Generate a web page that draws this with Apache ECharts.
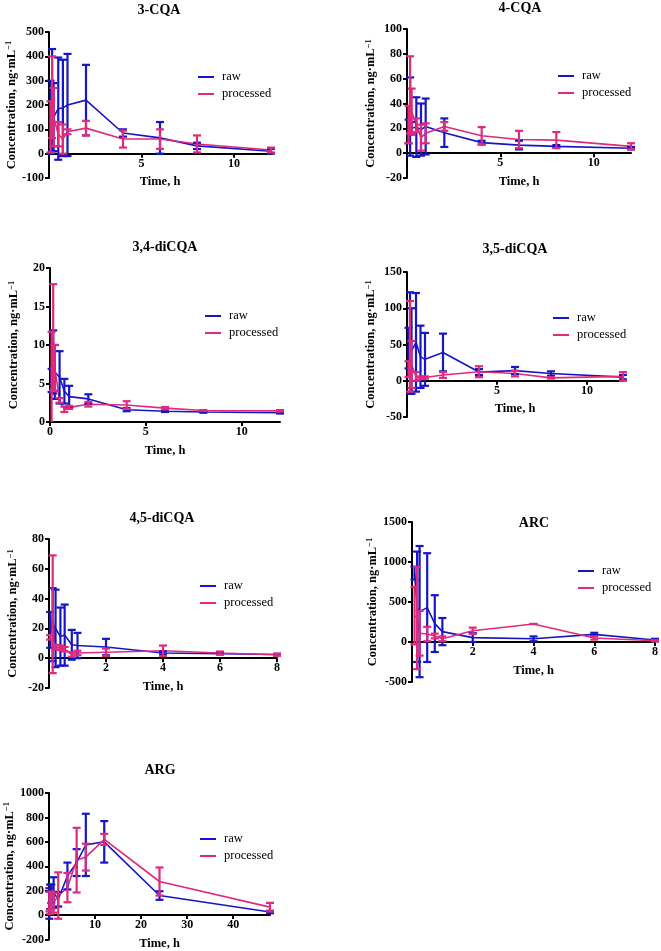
<!DOCTYPE html>
<html><head><meta charset="utf-8">
<script src="https://cdn.jsdelivr.net/npm/echarts/dist/echarts.min.js"></script>
<style>html,body{margin:0;padding:0;background:#fff}#c{width:661px;height:951px}</style>
</head><body><div id="c"></div>
<script>
// ---------- DATA ----------
const tCQA = [0.083, 0.167, 0.25, 0.5, 0.75, 1, 2, 4, 6, 8, 12];
const t45 = [0.04, 0.13, 0.23, 0.4, 0.55, 0.8, 1, 2, 4, 6, 8];
const tARC = [0.083, 0.167, 0.25, 0.5, 0.75, 1, 2, 4, 6, 8];
const tARG = [0.083, 0.25, 0.5, 1, 2, 4, 6, 8, 12, 24, 48];

const cqa3RawMean = [150, 220, 150, 185, 188, 200, 220, 85, 65, 32, 10];
const cqa3RawSD   = [150, 210, 140, 210, 198, 210, 145, 15, 65, 13, 10];
const cqa3ProcMean = [110, 232, 150, 80, 60, 90, 105, 60, 60, 40, 15];
const cqa3ProcSD   = [105, 168, 120, 50, 60, 10, 30, 35, 40, 35, 10];

const cqa4RawMean = [17.5, 29.5, 20, 21, 19, 21.5, 16.5, 8.5, 6.5, 5.5, 4];
const cqa4RawSD   = [9.5, 31.5, 5, 24, 21, 22.5, 11.5, 1.5, 3.5, 1, 1];
const cqa4ProcMean = [23, 47, 33.5, 22.5, 12.5, 16, 21.5, 14, 11, 10.5, 5.5];
const cqa4ProcSD   = [15, 31, 18.5, 5.5, 10.5, 8, 3.5, 7, 7, 6.5, 2.5];

const di34RawMean = [5.4, 7.8, 6.5, 5.8, 4.0, 3.3, 3.0, 1.6, 1.4, 1.3, 1.2];
const di34RawSD   = [1.5, 4.1, 3.5, 3.4, 1.6, 1.4, 0.6, 0.2, 0.1, 0.1, 0.1];
const di34ProcMean = [5.0, 11.0, 7.0, 2.8, 1.65, 1.9, 2.3, 2.2, 1.8, 1.5, 1.45];
const di34ProcSD   = [6.7, 6.9, 3.0, 0.3, 0.35, 0.2, 0.3, 0.5, 0.15, 0.05, 0.1];

const di35RawMean = [45, 52, 41, 53, 33, 29.5, 39, 12, 14, 10, 5];
const di35RawSD   = [28, 70, 59, 68, 43, 36.5, 26, 4, 5, 3, 3];
const di35ProcMean = [16, 47.5, 22.5, 6, 4, 4.5, 8, 12.5, 10, 4, 6];
const di35ProcSD   = [11, 62.5, 32.5, 6, 2, 1.5, 4, 7.5, 4, 1, 6];

const di45RawMean = [19, 22.5, 20, 14.5, 15.5, 9, 8.5, 7.5, 3.5, 3, 2.5];
const di45RawSD   = [12, 24.5, 26, 19.5, 20.5, 10, 8.5, 5.5, 1, 0.5, 0.5];
const di45ProcMean = [14, 29.5, 7.5, 7, 6, 2.5, 3.5, 4, 5, 3.5, 2.3];
const di45ProcSD   = [1.5, 39.5, 1.5, 1.5, 1.5, 1.5, 1.5, 2.5, 3.5, 1, 0.7];

const arcRawMean = [860, 440, 380, 430, 230, 130, 55, 40, 95, 25];
const arcRawSD   = [80, 690, 820, 680, 355, 170, 55, 30, 20, 15];
const arcProcMean = [330, 300, 110, 100, 75, 40, 140, 225, 50, 15];
const arcProcSD   = [360, 640, 280, 90, 30, 30, 40, 0, 20, 8];

const argRawMean = [95, 150, 175, 185, 130, 320, 430, 575, 600, 160, 25];
const argRawSD   = [125, 100, 75, 125, 60, 110, 110, 255, 170, 35, 10];
const argProcMean = [110, 100, 120, 100, 160, 225, 450, 475, 620, 275, 65];
const argProcSD   = [80, 90, 70, 80, 190, 120, 265, 110, 45, 115, 35];

const titles = ['3-CQA', '4-CQA', '3,4-diCQA', '3,5-diCQA', '4,5-diCQA', 'ARC', 'ARG'];
const seriesNames = ['raw', 'processed'];
const xTickLabels = [[5, 10], [5, 10], [0, 5, 10], [5, 10], [2, 4, 6, 8], [2, 4, 6, 8], [10, 20, 30, 40]];
const yRanges = [[-100, 500, 100], [-20, 100, 20], [0, 20, 5], [-50, 150, 50], [-20, 80, 20], [-500, 1500, 500], [-200, 1000, 200]];
const xMax = [12, 12, 12, 12, 8, 8, 48];

// ---------- LAYOUT ----------
const panels = [
  {t: tCQA, rm: cqa3RawMean, rs: cqa3RawSD, pm: cqa3ProcMean, ps: cqa3ProcSD,
   grid: {left: 49, top: 32, width: 222, height: 146}, title: [159, 10], legend: [193, 65]},
  {t: tCQA, rm: cqa4RawMean, rs: cqa4RawSD, pm: cqa4ProcMean, ps: cqa4ProcSD,
   grid: {left: 407, top: 29, width: 224, height: 149}, title: [520, 8], legend: [553, 64]},
  {t: tCQA, rm: di34RawMean, rs: di34RawSD, pm: di34ProcMean, ps: di34ProcSD,
   grid: {left: 50, top: 268, width: 230, height: 154}, title: [165, 247], legend: [200, 304]},
  {t: tCQA, rm: di35RawMean, rs: di35RawSD, pm: di35ProcMean, ps: di35ProcSD,
   grid: {left: 407, top: 272, width: 216, height: 145}, title: [515, 249], legend: [548, 306]},
  {t: t45, rm: di45RawMean, rs: di45RawSD, pm: di45ProcMean, ps: di45ProcSD,
   grid: {left: 49, top: 539, width: 228, height: 149}, title: [162, 518], legend: [195, 574]},
  {t: tARC, rm: arcRawMean, rs: arcRawSD, pm: arcProcMean, ps: arcProcSD,
   grid: {left: 412, top: 522, width: 243, height: 160}, title: [534, 523], legend: [573, 559]},
  {t: tARG, rm: argRawMean, rs: argRawSD, pm: argProcMean, ps: argProcSD,
   grid: {left: 49, top: 793, width: 221, height: 147}, title: [160, 770], legend: [195, 827]}
];

const FONT = '"Liberation Serif", "Times New Roman", Times, serif';
const BLUE = '#1616c8';
const PINK = '#e02a7c';

function errRender(color) {
  return function (params, api) {
    const x = api.value(0), lo = api.value(1), hi = api.value(2);
    const pLo = api.coord([x, lo]);
    const pHi = api.coord([x, hi]);
    const cs = params.coordSys;
    const top = Math.max(pHi[1], cs.y);
    const bot = Math.min(pLo[1], cs.y + cs.height);
    const cx = pLo[0];
    const w = 4;
    const st = {stroke: color, lineWidth: 2.2, fill: null};
    const ch = [{type: 'line', shape: {x1: cx, y1: top, x2: cx, y2: bot}, style: st}];
    if (pHi[1] >= cs.y) ch.push({type: 'line', shape: {x1: cx - w, y1: pHi[1], x2: cx + w, y2: pHi[1]}, style: st});
    if (pLo[1] <= cs.y + cs.height) ch.push({type: 'line', shape: {x1: cx - w, y1: pLo[1], x2: cx + w, y2: pLo[1]}, style: st});
    return {type: 'group', children: ch};
  };
}

const grids = [], xAxes = [], yAxes = [], series = [], legends = [], graphics = [];
const axisLineStyle = {color: '#000', width: 2};
const labelStyle = {color: '#000', fontWeight: 'bold', fontSize: 12, fontFamily: FONT};

panels.forEach((p, i) => {
  grids.push(Object.assign({containLabel: false}, p.grid));
  const yr = yRanges[i];
  const zeroOffset = -((0 - yr[0]) / (yr[1] - yr[0])) * p.grid.height;
  xAxes.push({
    gridIndex: i, type: 'value', min: 0, max: xMax[i], position: 'bottom', offset: zeroOffset,
    axisLine: {show: true, onZero: false, lineStyle: axisLineStyle},
    axisTick: {show: true, length: 4, lineStyle: {color: '#000', width: 2}, customValues: xTickLabels[i]},
    axisLabel: Object.assign({margin: 4, customValues: xTickLabels[i], formatter: v => String(v)}, labelStyle),
    splitLine: {show: false},
    name: 'Time, h', nameLocation: 'middle', nameGap: 22,
    nameTextStyle: {color: '#000', fontWeight: 'bold', fontSize: 12.5, fontFamily: FONT}
  });
  yAxes.push({
    gridIndex: i, type: 'value', min: yr[0], max: yr[1], interval: yr[2],
    axisLine: {show: true, onZero: false, lineStyle: axisLineStyle},
    axisTick: {show: true, length: 4, lineStyle: {color: '#000', width: 2}},
    axisLabel: Object.assign({margin: 5, formatter: v => String(v)}, labelStyle),
    splitLine: {show: false},
    name: '{a|Concentration, ng·mL}{s|−1}', nameLocation: 'middle', nameGap: 29,
    nameTextStyle: {
      color: '#000',
      rich: {
        a: {fontSize: 12.5, fontWeight: 'bold', fontFamily: FONT, color: '#000', lineHeight: 14},
        s: {fontSize: 8.5, fontWeight: 'bold', fontFamily: FONT, color: '#000', lineHeight: 8, verticalAlign: 'top'}
      }
    }
  });
  const mk = (name, mean, sd, color) => {
    series.push({
      type: 'line', name: name, xAxisIndex: i, yAxisIndex: i,
      data: p.t.map((t, j) => [t, mean[j]]),
      showSymbol: false, symbol: 'none', lineStyle: {width: 1.6, color: color}, itemStyle: {color: color},
      animation: false, z: 2
    });
    series.push({
      type: 'custom', name: name + ' SD', xAxisIndex: i, yAxisIndex: i,
      data: p.t.map((t, j) => [t, mean[j] - sd[j], mean[j] + sd[j]]),
      renderItem: errRender(color), itemStyle: {color: color},
      encode: {x: 0, y: [1, 2]}, animation: false, z: 3, silent: true
    });
  };
  mk(seriesNames[0], p.rm, p.rs, BLUE);
  mk(seriesNames[1], p.pm, p.ps, PINK);
  legends.push({
    left: p.legend[0], top: p.legend[1], orient: 'vertical', data: seriesNames,
    icon: 'rect', itemWidth: 16, itemHeight: 2, itemGap: 3, selectedMode: false,
    textStyle: {fontFamily: FONT, fontSize: 12.5, color: '#000', lineHeight: 14, padding: [0, 0, 0, 3]}
  });
  graphics.push({
    type: 'text', x: p.title[0], y: p.title[1],
    style: {text: titles[i], fontFamily: FONT, fontSize: 14, fontWeight: 'bold', fill: '#000',
            align: 'center', verticalAlign: 'middle', textAlign: 'center', textVerticalAlign: 'middle'}
  });
});

const chart = echarts.init(document.getElementById('c'), null, {renderer: 'canvas'});
chart.setOption({
  backgroundColor: '#fff',
  animation: false,
  grid: grids, xAxis: xAxes, yAxis: yAxes, series: series, legend: legends,
  graphic: graphics
});
</script></body></html>
